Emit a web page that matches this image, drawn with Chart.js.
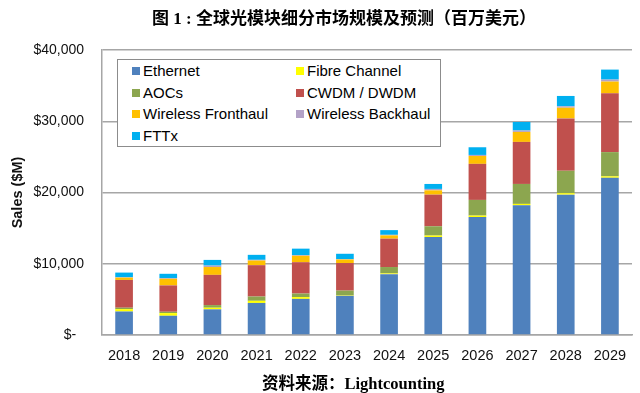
<!DOCTYPE html>
<html>
<head>
<meta charset="utf-8">
<script src="https://cdn.jsdelivr.net/npm/chart.js@4"></script>
<style>
  html, body { margin: 0; padding: 0; background: #fff; }
  #wrap { position: relative; width: 640px; height: 393px; overflow: hidden; }
  #chart { position: absolute; left: 0; top: 0; }
  .title, .source {
    position: absolute; white-space: nowrap; color: #000; font-weight: bold;
    font-family: "Liberation Serif", "DejaVu Serif", "Noto Sans CJK SC", serif;
  }
  .title { left: 152px; top: 4px; font-size: 17px; }
  .source { left: 262px; top: 370px; font-size: 16.5px; }
  #legend {
    position: absolute; left: 117px; top: 59px; width: 322px; height: 86px;
    border: 1.5px solid #8c8c8c; background: #fff;
    font-family: "Liberation Sans", Arial, sans-serif; font-size: 15px; color: #000;
  }
  .item { position: absolute; line-height: 17px; white-space: nowrap; }
  .item i { display: inline-block; width: 8px; height: 8px; margin-right: 3px; vertical-align: 1px; }
</style>
</head>
<body>
<div id="wrap">
  <canvas id="chart" width="640" height="393"></canvas>
  <div class="title">图 1 : 全球光模块细分市场规模及预测（百万美元）</div>
  <div class="source">资料来源：Lightcounting</div>
  <div id="legend"></div>
</div>
<script>
// years and segment values, $M
const years = ['2018', '2019', '2020', '2021', '2022', '2023', '2024', '2025', '2026', '2027', '2028', '2029'];
const ethernet  = [3300, 2700, 3600, 4500, 5070, 5490, 8540, 13760, 16560, 18200, 19700, 22070];
const fibre     = [330, 370, 230, 300, 250, 50, 100, 200, 200, 200, 200, 200];
const aocs      = [200, 190, 370, 600, 500, 690, 900, 1300, 2200, 2800, 3150, 3400];
const cwdm      = [3900, 3700, 4240, 4400, 4400, 3870, 3980, 4440, 5060, 5900, 7350, 8250];
const fronthaul = [320, 930, 1100, 650, 900, 500, 460, 600, 1100, 1400, 1500, 1650];
const backhaul  = [60, 100, 200, 100, 100, 60, 80, 200, 150, 200, 200, 280];
const fttx      = [650, 600, 800, 700, 900, 740, 660, 700, 1080, 1200, 1450, 1400];

const seriesNames = ['Ethernet', 'Fibre Channel', 'AOCs', 'CWDM / DWDM', 'Wireless Fronthaul', 'Wireless Backhaul', 'FTTx'];
const seriesData = [ethernet, fibre, aocs, cwdm, fronthaul, backhaul, fttx];
const colors = ['#4f81bd', '#ffff00', '#8ca64f', '#c0504d', '#ffc000', '#b3a2c7', '#00b0f0'];

const yTicks = [0, 10000, 20000, 30000, 40000];

Chart.defaults.font.family = '"Liberation Sans", Arial, sans-serif';
Chart.defaults.color = '#111';

const gridGrey = '#a6a6a6';

const ctx = document.getElementById('chart').getContext('2d');
const chart = new Chart(ctx, {
    type: 'bar',
    data: {
        labels: years,
        datasets: seriesNames.map((name, i) => ({
            label: name,
            data: seriesData[i],
            backgroundColor: colors[i],
            borderWidth: 0,
            categoryPercentage: 1,
            barPercentage: 0.4
        }))
    },
    options: {
        responsive: false,
        animation: false,
        layout: { padding: { left: 0, top: 50, right: 8, bottom: 28 } },
        plugins: {
            legend: { display: false },
            tooltip: { enabled: false }
        },
        scales: {
            x: {
                stacked: true,
                grid: { display: false },
                border: { display: true, color: gridGrey, width: 1.5 },
                ticks: { padding: 4, font: { size: 14.5 }, color: '#111' },
                afterFit: (scale) => { scale.height = 30; }
            },
            y: {
                stacked: true,
                min: 0,
                max: 40000,
                afterBuildTicks: (scale) => { scale.ticks = yTicks.map(v => ({ value: v })); },
                grid: { color: gridGrey, lineWidth: 1.5, drawTicks: false },
                border: { display: true, color: gridGrey, width: 1.5 },
                ticks: {
                    padding: 18,
                    font: { size: 14 },
                    color: '#111',
                    callback: (v) => v === 0 ? '$-  ' : '$' + v.toLocaleString('en-US')
                },
                title: {
                    display: true,
                    text: 'Sales ($M)',
                    font: { size: 14.5, weight: 'bold' },
                    color: '#111',
                    padding: { top: 9, bottom: 0 }
                },
                afterFit: (scale) => { scale.width = 102; }
            }
        }
    }
});

// legend drawn as html, two columns, row by row
const legend = document.getElementById('legend');
seriesNames.forEach((name, i) => {
    const item = document.createElement('div');
    item.className = 'item';
    item.style.left = (i % 2 === 0 ? 14 : 178) + 'px';
    item.style.top = (2 + Math.floor(i / 2) * 21.6) + 'px';
    item.innerHTML = `<i style="background:${colors[i]}"></i>${name}`;
    legend.appendChild(item);
});
</script>
</body>
</html>
